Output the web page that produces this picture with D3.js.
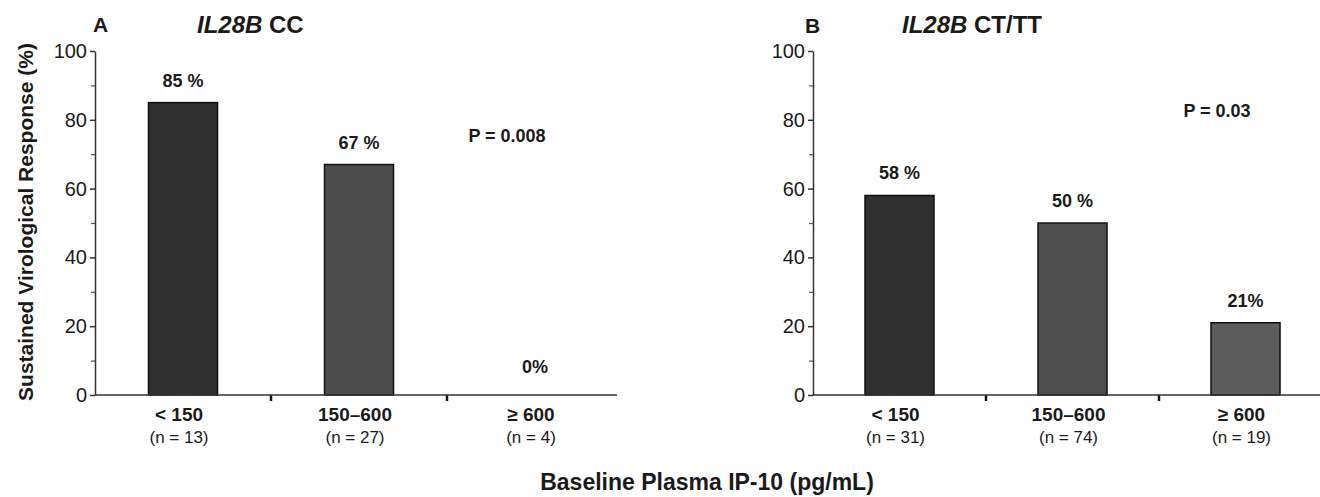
<!DOCTYPE html>
<html>
<head>
<meta charset="utf-8">
<script src="https://cdn.jsdelivr.net/npm/d3@7"></script>
<style>
  body { margin: 0; background: #fff; }
  svg text { font-family: "Liberation Sans", Arial, Helvetica, sans-serif; fill: #1a1a1a; }
</style>
</head>
<body>
<div id="chart"></div>
<script>
// data
var categories = ["< 150", "150\u2013600", "\u2265 600"];
var nA = ["(n = 13)", "(n = 27)", "(n = 4)"];
var nB = ["(n = 31)", "(n = 74)", "(n = 19)"];
var svrA = [85, 67, 0];
var svrB = [58, 50, 21];
var labelsA = ["85 %", "67 %", "0%"];
var labelsB = ["58 %", "50 %", "21%"];
var yTicks = [0, 20, 40, 60, 80, 100];
var yMinor = [10, 30, 50, 70, 90];

var width = 1320, height = 497;

var svg = d3.select("#chart").append("svg")
  .attr("width", width)
  .attr("height", height);

var y = d3.scaleLinear().domain([0, 100]).range([395, 51]);

function drawPanel(x0, x1, axisEnd, values, labels, ns, colors) {
  var g = svg.append("g");
  var x = d3.scaleBand().domain(categories).range([x0, x1]).padding(0);
  var barW = 69;

  // y axis, major + minor ticks
  g.append("g")
    .attr("transform", "translate(" + x0 + ",0)")
    .call(d3.axisLeft(y).tickValues(yTicks).tickSize(5).tickSizeOuter(0).tickPadding(3))
    .call(function(a) {
      a.selectAll("text").style("font-size", "20px").style("fill", "#1a1a1a");
      a.selectAll("line").attr("stroke", "#333").attr("stroke-width", 1.5);
      a.select(".domain").attr("stroke", "#333").attr("stroke-width", 1.5);
    });
  g.append("g")
    .attr("transform", "translate(" + x0 + ",0)")
    .call(d3.axisLeft(y).tickValues(yMinor).tickSize(4).tickSizeOuter(0).tickFormat(""))
    .call(function(a) {
      a.select(".domain").remove();
      a.selectAll("line").attr("stroke", "#555").attr("stroke-width", 1.2);
    });

  // bars
  for (var i = 0; i < values.length; i++) {
    var cx = x(categories[i]) + x.bandwidth() / 2;
    if (values[i] > 0) {
      g.append("rect")
        .attr("x", cx - barW / 2)
        .attr("y", y(values[i]))
        .attr("width", barW)
        .attr("height", y(0) - y(values[i]))
        .attr("fill", colors[i])
        .attr("stroke", "#111")
        .attr("stroke-width", 1.5);
    }
    g.append("text")
      .attr("x", cx)
      .attr("y", Math.min(y(values[i]) - 16, y(0) - 22))
      .text(labels[i])
      .style("font-size", "18px")
      .style("font-weight", 700)
      .style("text-anchor", "middle");

    g.append("text")
      .attr("x", cx - 4)
      .attr("y", 421)
      .text(categories[i])
      .style("font-size", "19px")
      .style("font-weight", 700)
      .style("text-anchor", "middle");
    g.append("text")
      .attr("x", cx - 4)
      .attr("y", 443)
      .text(ns[i])
      .style("font-size", "17px")
      .style("text-anchor", "middle");

    // category separator ticks
    if (i > 0) {
      g.append("line")
        .attr("x1", x(categories[i])).attr("x2", x(categories[i]))
        .attr("y1", y(0)).attr("y2", y(0) + 6)
        .attr("stroke", "#111").attr("stroke-width", 2.5);
    }
  }

  // x axis line
  g.append("line")
    .attr("x1", x0).attr("x2", axisEnd)
    .attr("y1", y(0)).attr("y2", y(0))
    .attr("stroke", "#333").attr("stroke-width", 1.5);

  return x;
}

drawPanel(95, 623, 617, svrA, labelsA, nA, ["#303030", "#4b4b4b", "#555"]);
drawPanel(813, 1332, 1320, svrB, labelsB, nB, ["#303030", "#4e4e4e", "#5c5c5c"]);

// panel letters + titles
svg.append("text").attr("x", 93).attr("y", 32).text("A")
  .style("font-size", "21px").style("font-weight", 700);
svg.append("text").attr("x", 805).attr("y", 33).text("B")
  .style("font-size", "21px").style("font-weight", 700);

var tA = svg.append("text").attr("x", 197).attr("y", 33)
  .style("font-size", "24px").style("font-weight", 700);
tA.append("tspan").text("IL28B").style("font-style", "italic");
tA.append("tspan").text(" CC");

var tB = svg.append("text").attr("x", 902).attr("y", 33)
  .style("font-size", "24px").style("font-weight", 700);
tB.append("tspan").text("IL28B").style("font-style", "italic");
tB.append("tspan").text(" CT/TT");

// p values
svg.append("text").attr("x", 507).attr("y", 142).text("P = 0.008")
  .style("font-size", "18px").style("font-weight", 700).style("text-anchor", "middle");
svg.append("text").attr("x", 1217).attr("y", 117).text("P = 0.03")
  .style("font-size", "18px").style("font-weight", 700).style("text-anchor", "middle");

// axis titles
svg.append("text")
  .attr("transform", "translate(33,222) rotate(-90)")
  .text("Sustained Virological Response (%)")
  .style("font-size", "21px").style("font-weight", 700).style("text-anchor", "middle");

svg.append("text").attr("x", 707).attr("y", 490)
  .text("Baseline Plasma IP-10 (pg/mL)")
  .style("font-size", "23px").style("font-weight", 700).style("text-anchor", "middle");
</script>
</body>
</html>
